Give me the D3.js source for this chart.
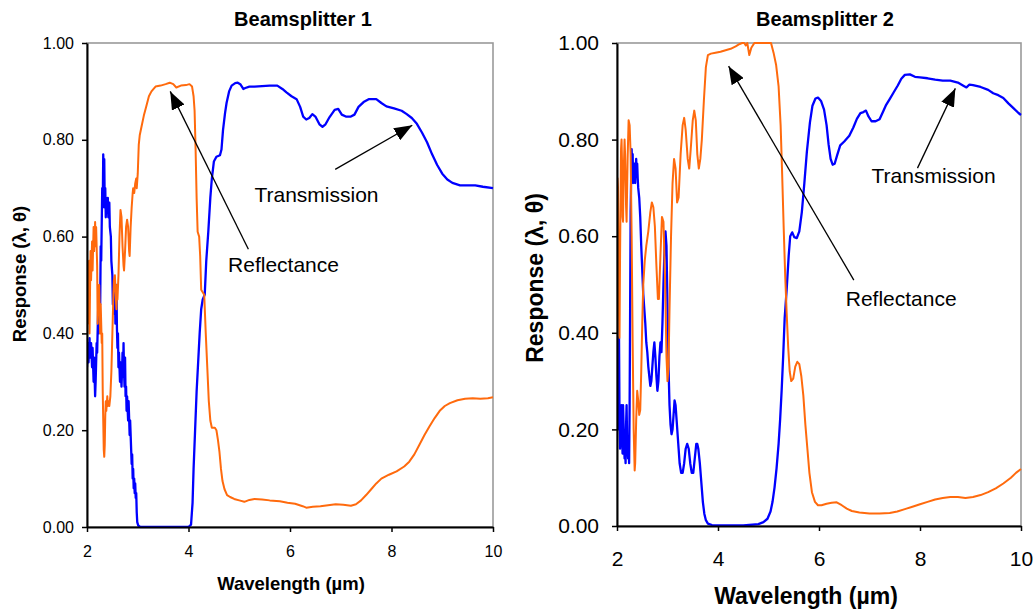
<!DOCTYPE html>
<html><head><meta charset="utf-8">
<script src="https://cdn.jsdelivr.net/npm/d3@7"></script>
<style>
body{margin:0;background:#fff;}
text{font-family:"Liberation Sans",Arial,sans-serif;}
</style></head>
<body><svg id="c" width="1036" height="611"></svg>
<script>
// ---------- DATA ----------
const xTicks = [2, 4, 6, 8, 10];
const yTicks = [0, 0.2, 0.4, 0.6, 0.8, 1.0];
const panelTitles = ["Beamsplitter 1", "Beamsplitter 2"];
const seriesNames = ["Transmission", "Reflectance"];

// Beamsplitter 1 - Transmission
const bs1TransWl = [2.00,2.02,2.03,2.05,2.06,2.08,2.10,2.11,2.13,2.14,2.16,2.17,2.19,2.20,2.22,2.23,2.25,2.26,2.27,2.28,2.30,2.31,2.32,2.33,2.34,2.35,2.36,2.37,2.38,2.40,2.41,2.42,2.44,2.45,2.47,2.48,2.50,2.51,2.53,2.54,2.55,2.56,2.58,2.59,2.60,2.61,2.62,2.63,2.65,2.66,2.68,2.69,2.70,2.71,2.72,2.73,2.74,2.75,2.76,2.77,2.78,2.79,2.81,2.82,2.84,2.85,2.87,2.88,2.89,2.90,2.91,2.92,2.93,2.94,2.95,2.96,2.97,2.98,2.99,3.01,3.05,3.50,4.00,4.05,4.08,4.10,4.13,4.16,4.19,4.22,4.25,4.28,4.32,4.35,4.39,4.43,4.46,4.50,4.55,4.62,4.65,4.68,4.72,4.75,4.80,4.85,4.92,4.97,5.02,5.08,5.12,5.20,5.30,5.45,5.60,5.75,5.85,5.93,6.03,6.13,6.20,6.26,6.32,6.38,6.44,6.50,6.58,6.64,6.70,6.78,6.88,6.95,7.02,7.10,7.20,7.27,7.35,7.45,7.55,7.70,7.80,7.90,8.05,8.20,8.30,8.40,8.50,8.60,8.70,8.80,8.90,9.00,9.10,9.20,9.35,9.50,9.65,9.80,10.0];
const bs1TransVal = [0.33,0.38,0.34,0.39,0.35,0.38,0.33,0.37,0.30,0.35,0.27,0.30,0.38,0.36,0.45,0.40,0.50,0.46,0.58,0.55,0.70,0.66,0.77,0.72,0.76,0.66,0.70,0.64,0.68,0.65,0.68,0.64,0.67,0.62,0.60,0.55,0.52,0.46,0.50,0.44,0.49,0.42,0.50,0.41,0.37,0.40,0.33,0.36,0.30,0.34,0.29,0.32,0.36,0.31,0.38,0.32,0.29,0.35,0.27,0.29,0.24,0.27,0.22,0.26,0.19,0.22,0.16,0.13,0.15,0.10,0.12,0.08,0.10,0.07,0.09,0.06,0.07,0.03,0.01,0.003,0.0,0.0,0.0,0.005,0.05,0.12,0.20,0.28,0.34,0.40,0.45,0.47,0.48,0.55,0.61,0.68,0.72,0.755,0.765,0.768,0.78,0.82,0.855,0.876,0.90,0.912,0.917,0.918,0.915,0.905,0.907,0.910,0.910,0.911,0.912,0.912,0.905,0.898,0.890,0.884,0.868,0.848,0.842,0.845,0.853,0.848,0.832,0.827,0.832,0.847,0.862,0.864,0.852,0.848,0.848,0.852,0.868,0.878,0.884,0.884,0.876,0.869,0.865,0.860,0.853,0.845,0.833,0.815,0.795,0.770,0.748,0.730,0.718,0.711,0.706,0.706,0.706,0.703,0.700];

// Beamsplitter 1 - Reflectance
const bs1ReflWl = [2.00,2.01,2.02,2.03,2.04,2.05,2.06,2.07,2.08,2.10,2.11,2.13,2.14,2.16,2.17,2.18,2.20,2.21,2.22,2.23,2.24,2.26,2.27,2.29,2.30,2.31,2.32,2.33,2.34,2.35,2.36,2.37,2.38,2.40,2.41,2.43,2.44,2.46,2.48,2.50,2.52,2.53,2.55,2.56,2.58,2.59,2.60,2.62,2.64,2.66,2.68,2.70,2.72,2.73,2.75,2.77,2.79,2.81,2.83,2.84,2.86,2.88,2.90,2.91,2.93,2.95,2.97,2.98,3.00,3.02,3.04,3.08,3.12,3.17,3.22,3.27,3.35,3.45,3.55,3.63,3.70,3.76,3.85,3.95,4.02,4.07,4.10,4.12,4.14,4.16,4.18,4.21,4.23,4.25,4.28,4.31,4.34,4.37,4.40,4.43,4.46,4.52,4.55,4.58,4.61,4.64,4.67,4.71,4.76,4.82,4.90,5.00,5.10,5.20,5.30,5.45,5.60,5.80,5.95,6.10,6.25,6.32,6.45,6.60,6.75,6.90,7.05,7.20,7.30,7.40,7.50,7.60,7.70,7.80,7.95,8.10,8.25,8.35,8.45,8.55,8.65,8.75,8.85,8.95,9.05,9.15,9.30,9.45,9.60,9.75,9.90,10.0];
const bs1ReflVal = [0.50,0.42,0.52,0.46,0.55,0.40,0.49,0.57,0.51,0.59,0.53,0.62,0.57,0.63,0.58,0.62,0.54,0.42,0.48,0.45,0.50,0.40,0.46,0.38,0.40,0.28,0.22,0.16,0.145,0.17,0.23,0.26,0.24,0.27,0.25,0.26,0.25,0.27,0.32,0.40,0.48,0.51,0.52,0.49,0.45,0.50,0.47,0.52,0.60,0.655,0.64,0.58,0.54,0.53,0.57,0.62,0.635,0.62,0.57,0.56,0.62,0.66,0.69,0.70,0.69,0.71,0.72,0.70,0.73,0.79,0.81,0.83,0.85,0.87,0.89,0.90,0.91,0.912,0.915,0.918,0.915,0.908,0.912,0.913,0.915,0.91,0.89,0.86,0.78,0.68,0.61,0.60,0.56,0.49,0.485,0.48,0.40,0.33,0.26,0.22,0.205,0.205,0.20,0.18,0.155,0.12,0.095,0.078,0.066,0.062,0.058,0.055,0.052,0.056,0.058,0.057,0.055,0.053,0.050,0.048,0.043,0.040,0.042,0.043,0.045,0.047,0.046,0.044,0.047,0.055,0.066,0.078,0.090,0.100,0.108,0.115,0.125,0.135,0.150,0.170,0.190,0.208,0.225,0.240,0.250,0.256,0.262,0.265,0.266,0.265,0.266,0.268];

// Beamsplitter 2 - Transmission
const bs2TransWl = [2.00,2.01,2.02,2.03,2.04,2.05,2.06,2.07,2.09,2.10,2.11,2.12,2.13,2.15,2.16,2.17,2.18,2.19,2.20,2.22,2.23,2.24,2.25,2.26,2.27,2.28,2.29,2.30,2.31,2.32,2.33,2.34,2.35,2.36,2.37,2.38,2.39,2.40,2.41,2.42,2.44,2.46,2.48,2.50,2.52,2.54,2.56,2.58,2.60,2.62,2.64,2.66,2.68,2.70,2.72,2.74,2.76,2.78,2.80,2.82,2.84,2.86,2.88,2.90,2.92,2.94,2.96,2.98,3.00,3.02,3.04,3.06,3.08,3.10,3.12,3.14,3.16,3.18,3.20,3.22,3.24,3.27,3.30,3.33,3.36,3.39,3.42,3.45,3.48,3.51,3.54,3.57,3.59,3.61,3.64,3.67,3.70,3.73,3.76,3.80,3.88,4.50,4.80,4.90,4.98,5.04,5.08,5.12,5.16,5.20,5.23,5.26,5.29,5.32,5.36,5.40,5.43,5.47,5.51,5.56,5.61,5.66,5.71,5.76,5.82,5.87,5.93,5.98,6.04,6.10,6.15,6.19,6.23,6.27,6.31,6.36,6.42,6.50,6.60,6.68,6.75,6.82,6.88,6.93,6.98,7.04,7.12,7.20,7.27,7.33,7.40,7.48,7.56,7.63,7.70,7.80,7.90,8.00,8.15,8.30,8.45,8.60,8.75,8.85,8.92,8.98,9.05,9.20,9.35,9.45,9.55,9.65,9.75,9.85,9.95,10.0];
const bs2TransVal = [0.47,0.25,0.38,0.20,0.39,0.22,0.16,0.18,0.25,0.20,0.15,0.25,0.21,0.14,0.16,0.13,0.21,0.25,0.18,0.14,0.17,0.13,0.25,0.45,0.65,0.72,0.78,0.74,0.77,0.71,0.74,0.72,0.75,0.71,0.74,0.76,0.73,0.75,0.72,0.70,0.68,0.64,0.58,0.53,0.48,0.45,0.42,0.38,0.36,0.33,0.31,0.29,0.30,0.33,0.36,0.38,0.35,0.31,0.28,0.30,0.35,0.38,0.36,0.42,0.50,0.57,0.61,0.58,0.45,0.33,0.25,0.21,0.19,0.20,0.23,0.26,0.25,0.22,0.19,0.16,0.13,0.11,0.11,0.13,0.16,0.17,0.16,0.13,0.11,0.11,0.14,0.17,0.17,0.16,0.13,0.09,0.05,0.025,0.012,0.005,0.002,0.001,0.004,0.008,0.015,0.03,0.05,0.08,0.12,0.17,0.22,0.28,0.35,0.43,0.49,0.56,0.60,0.608,0.598,0.596,0.61,0.65,0.71,0.775,0.835,0.870,0.885,0.887,0.880,0.862,0.830,0.790,0.760,0.748,0.750,0.768,0.788,0.796,0.808,0.825,0.843,0.855,0.857,0.860,0.848,0.838,0.838,0.842,0.858,0.872,0.884,0.898,0.912,0.926,0.934,0.935,0.930,0.929,0.927,0.924,0.922,0.922,0.918,0.912,0.908,0.914,0.913,0.909,0.903,0.896,0.892,0.886,0.875,0.865,0.855,0.851];

// Beamsplitter 2 - Reflectance
const bs2ReflWl = [2.00,2.01,2.02,2.03,2.05,2.06,2.08,2.09,2.10,2.11,2.12,2.13,2.15,2.16,2.18,2.19,2.21,2.23,2.25,2.27,2.29,2.31,2.33,2.35,2.36,2.38,2.40,2.42,2.44,2.46,2.48,2.50,2.52,2.55,2.58,2.62,2.66,2.69,2.72,2.75,2.78,2.81,2.83,2.86,2.89,2.92,2.95,2.98,3.00,3.02,3.04,3.07,3.10,3.13,3.16,3.19,3.22,3.26,3.30,3.33,3.36,3.40,3.43,3.46,3.50,3.53,3.56,3.59,3.62,3.65,3.68,3.72,3.76,3.80,3.86,3.95,4.05,4.15,4.25,4.35,4.43,4.48,4.52,4.55,4.58,4.62,4.66,4.72,4.80,4.90,5.05,5.10,5.15,5.20,5.24,5.27,5.30,5.33,5.36,5.39,5.42,5.45,5.49,5.53,5.57,5.61,5.65,5.69,5.73,5.77,5.81,5.86,5.92,5.98,6.05,6.15,6.25,6.35,6.45,6.55,6.65,6.80,7.00,7.20,7.40,7.55,7.70,7.85,8.00,8.15,8.30,8.45,8.60,8.75,8.90,9.05,9.20,9.35,9.50,9.65,9.80,9.90,10.0];
const bs2ReflVal = [0.24,0.72,0.70,0.55,0.39,0.55,0.78,0.80,0.75,0.64,0.63,0.72,0.80,0.77,0.66,0.63,0.76,0.84,0.83,0.77,0.60,0.38,0.20,0.115,0.13,0.22,0.28,0.26,0.23,0.24,0.32,0.42,0.50,0.55,0.58,0.61,0.65,0.67,0.66,0.62,0.54,0.47,0.47,0.56,0.64,0.63,0.52,0.35,0.30,0.33,0.45,0.60,0.71,0.76,0.74,0.67,0.68,0.77,0.83,0.845,0.82,0.76,0.74,0.78,0.84,0.86,0.84,0.77,0.74,0.76,0.80,0.88,0.95,0.975,0.978,0.980,0.982,0.985,0.988,0.993,0.998,1.0,1.0,0.995,1.0,0.975,0.99,1.0,1.0,1.0,1.0,0.98,0.955,0.91,0.83,0.73,0.62,0.52,0.44,0.37,0.32,0.30,0.305,0.33,0.34,0.335,0.31,0.27,0.21,0.16,0.11,0.07,0.05,0.043,0.043,0.046,0.048,0.049,0.043,0.036,0.031,0.028,0.026,0.026,0.027,0.030,0.035,0.040,0.045,0.050,0.055,0.058,0.060,0.060,0.058,0.060,0.064,0.070,0.078,0.088,0.100,0.110,0.118];

// annotation anchors in data units: [textX, textY, fromX, fromY, tipX, tipY]
const bs1TransNote = [5.30, 0.671, 6.89, 0.739, 8.41, 0.830];
const bs1ReflNote  = [4.78, 0.527, 5.18, 0.574, 3.64, 0.900];
const bs2TransNote = [7.04, 0.710, 7.95, 0.741, 8.70, 0.906];
const bs2ReflNote  = [6.53, 0.455, 6.69, 0.509, 4.21, 0.952];

// ---------- DRAW ----------
const svg = d3.select("#c");
svg.append("rect").attr("width",1036).attr("height",611).attr("fill","#fff");

const panels = [
  {x0:87, x1:493, y0:43, y1:527, tickFont:16, titleFont:20, axisFont:18.5, tickPad:8,
   title:panelTitles[0], titleX:303, titleY:25.5,
   xLabelX:291, xLabelY:590, yLabelX:26, yLabelY:274, xTickDy:557-527,
   trans:[bs1TransWl,bs1TransVal], refl:[bs1ReflWl,bs1ReflVal], tNote:bs1TransNote, rNote:bs1ReflNote, noteFont:21},
  {x0:617, x1:1021, y0:43, y1:526, tickFont:21, titleFont:20, axisFont:23, tickPad:13,
   title:panelTitles[1], titleX:825, titleY:26,
   xLabelX:806, xLabelY:604, yLabelX:543, yLabelY:278, xTickDy:565.5-526,
   trans:[bs2TransWl,bs2TransVal], refl:[bs2ReflWl,bs2ReflVal], tNote:bs2TransNote, rNote:bs2ReflNote, noteFont:21}
];

const defs = svg.append("defs");
defs.append("marker").attr("id","ah").attr("viewBox","0 0 10 10")
  .attr("refX",10).attr("refY",5).attr("markerWidth",18).attr("markerHeight",14)
  .attr("markerUnits","userSpaceOnUse").attr("orient","auto")
  .attr("preserveAspectRatio","none")
  .append("path").attr("d","M0,0 L10,5 L0,10 Z").attr("fill","#000");

panels.forEach((p,i)=>{
  const x = d3.scaleLinear().domain([2,10]).range([p.x0,p.x1]);
  const y = d3.scaleLinear().domain([0,1]).range([p.y1,p.y0]);
  const g = svg.append("g");

  // plot border (gray top/right)
  g.append("rect").attr("x",p.x0).attr("y",p.y0).attr("width",p.x1-p.x0).attr("height",p.y1-p.y0)
    .attr("fill","none").attr("stroke","#9a9a9a").attr("stroke-width",1.6);

  const clipId = "clip"+i;
  defs.append("clipPath").attr("id",clipId).append("rect")
    .attr("x",p.x0).attr("y",p.y0-1.5).attr("width",p.x1-p.x0+1).attr("height",p.y1-p.y0+3);

  const line = d3.line().x(d=>x(d[0])).y(d=>y(d[1]));
  const tData = p.trans[0].map((w,k)=>[w,p.trans[1][k]]);
  const rData = p.refl[0].map((w,k)=>[w,p.refl[1][k]]);
  const lg = g.append("g").attr("clip-path",`url(#${clipId})`);
  lg.append("path").datum(tData).attr("d",line).attr("fill","none")
    .attr("stroke","#0000ff").attr("stroke-width",2.3).attr("stroke-linejoin","round");
  lg.append("path").datum(rData).attr("d",line).attr("fill","none")
    .attr("stroke","#ff6a0d").attr("stroke-width",2).attr("stroke-linejoin","round");

  // axes
  const ya = g.append("g").attr("transform",`translate(${p.x0},0)`)
    .call(d3.axisLeft(y).tickValues(yTicks).tickFormat(d3.format(".2f")).tickSize(5).tickPadding(p.tickPad).tickSizeOuter(0));
  const xa = g.append("g").attr("transform",`translate(0,${p.y1})`)
    .call(d3.axisBottom(x).tickValues(xTicks).tickFormat(d3.format("d")).tickSize(5).tickPadding(0).tickSizeOuter(0));
  [ya,xa].forEach(a=>{
    a.select(".domain").attr("stroke","#000").attr("stroke-width",2);
    a.selectAll(".tick line").attr("stroke","#000").attr("stroke-width",1.5);
    a.selectAll("text").attr("font-size",p.tickFont).attr("fill","#000")
      .style("font-family","'Liberation Sans',Arial,sans-serif");
  });
  xa.selectAll(".tick text").attr("dy",null).attr("y",p.xTickDy);

  // titles
  g.append("text").attr("x",p.titleX).attr("y",p.titleY).attr("text-anchor","middle")
    .attr("font-size",p.titleFont).attr("font-weight","bold").text(p.title);
  g.append("text").attr("x",p.xLabelX).attr("y",p.xLabelY).attr("text-anchor","middle")
    .attr("font-size",p.axisFont).attr("font-weight","bold").text("Wavelength (µm)");
  g.append("text").attr("transform",`translate(${p.yLabelX},${p.yLabelY}) rotate(-90)`)
    .attr("text-anchor","middle").attr("font-size",p.axisFont).attr("font-weight","bold")
    .text("Response (λ, θ)");

  // annotations
  [[p.tNote,seriesNames[0]],[p.rNote,seriesNames[1]]].forEach(([n,label])=>{
    g.append("text").attr("x",x(n[0])).attr("y",y(n[1])).attr("font-size",p.noteFont).attr("fill","#000").text(label);
    g.append("line").attr("x1",x(n[2])).attr("y1",y(n[3])).attr("x2",x(n[4])).attr("y2",y(n[5]))
      .attr("stroke","#000").attr("stroke-width",1.3).attr("marker-end","url(#ah)");
  });
});
</script></body></html>
